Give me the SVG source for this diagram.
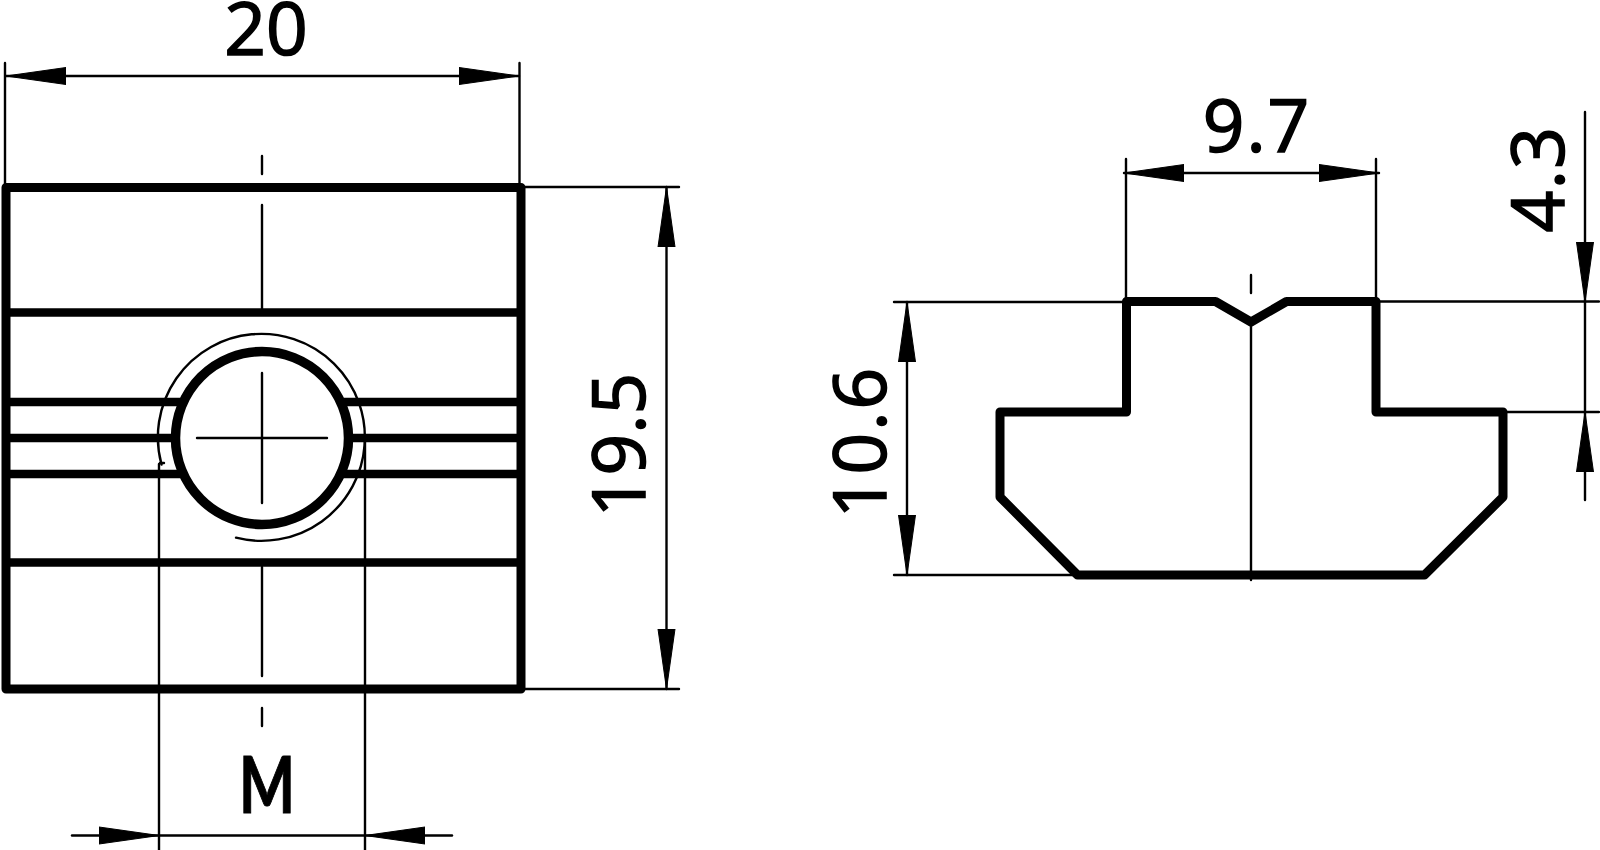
<svg xmlns="http://www.w3.org/2000/svg" width="1600" height="850" viewBox="0 0 1600 850">
<style>
.thick{fill:none;stroke:#000;stroke-width:9;stroke-linejoin:round;stroke-linecap:round}
.bar{fill:none;stroke:#000;stroke-width:8.500}
.thin{fill:none;stroke:#000;stroke-width:2.400;stroke-linecap:round}
.dim{fill:none;stroke:#000;stroke-width:2.400;stroke-linecap:round;marker-start:url(#arr);marker-end:url(#arr)}
.one{fill:none;stroke:#000;stroke-width:2.400;stroke-linecap:round;marker-end:url(#arr)}
text{font-family:"Open Sans","Noto Sans",sans-serif;font-size:73px;fill:#000;stroke:#000;stroke-width:1.600;text-anchor:middle}
</style>
<defs>
<marker id="arr" markerUnits="userSpaceOnUse" markerWidth="62" markerHeight="20" refX="60" refY="10" orient="auto-start-reverse" viewBox="0 0 62 20">
<path d="M0 1.5L60 10L0 18.5Z" fill="#000" stroke="#000" stroke-width="1" stroke-linejoin="round"/>
</marker>
</defs>
<rect width="1600" height="850" fill="#fff"/>
<g id="front-view">
<line class="bar" x1="7" y1="312.500" x2="520" y2="312.500"/>
<line class="bar" x1="7" y1="402" x2="520" y2="402"/>
<line class="bar" x1="7" y1="438" x2="520" y2="438"/>
<line class="bar" x1="7" y1="474" x2="520" y2="474"/>
<line class="bar" x1="7" y1="562.500" x2="520" y2="562.500"/>
<rect class="thick" x="6" y="187.500" width="515" height="501.500"/>
<path class="thin" d="M236 537.700A103.500 103.500 0 1 0 161.500 464.500"/>
<line class="thin" x1="159" y1="464" x2="159" y2="850"/>
<line class="thin" x1="365" y1="442" x2="365" y2="850"/>
<path class="thin" d="M160 463L164 463"/>
<circle cx="262" cy="438" r="86.500" fill="#fff" stroke="#000" stroke-width="9.500"/>
<line class="thin" x1="197" y1="438" x2="327" y2="438"/>
<line class="thin" x1="262" y1="373" x2="262" y2="503"/>
<line class="thin" x1="262" y1="156" x2="262" y2="174"/>
<line class="thin" x1="262" y1="205" x2="262" y2="309"/>
<line class="thin" x1="262" y1="567" x2="262" y2="676"/>
<line class="thin" x1="262" y1="708" x2="262" y2="726"/>
</g>
<g id="side-view">
<path class="thick" d="M1126.500 412V301.500H1215.500L1251 322L1286.500 301.500H1376V412H1503V497L1424.500 575H1077.500L1000 497V412Z"/>
<line class="thin" x1="1251" y1="275" x2="1251" y2="293"/>
<line class="thin" x1="1251" y1="322" x2="1251" y2="580"/>
</g>
<g id="connectors">
<line class="thin" x1="5" y1="63" x2="5" y2="184"/>
<line class="thin" x1="519.500" y1="63" x2="519.500" y2="184"/>
<line class="dim" x1="6" y1="76" x2="519" y2="76"/>
<line class="thin" x1="525" y1="187" x2="679" y2="187"/>
<line class="thin" x1="525" y1="689" x2="679" y2="689"/>
<line class="dim" x1="666.500" y1="187" x2="666.500" y2="689"/>
<line class="one" x1="72" y1="835.500" x2="159" y2="835.500"/>
<line class="one" x1="452" y1="835.500" x2="365" y2="835.500"/>
<line class="thin" x1="159" y1="835.500" x2="365" y2="835.500"/>
<line class="thin" x1="1126" y1="159" x2="1126" y2="298"/>
<line class="thin" x1="1376" y1="159" x2="1376" y2="298"/>
<line class="dim" x1="1124" y1="173" x2="1379" y2="173"/>
<line class="thin" x1="894" y1="302" x2="1126" y2="302"/>
<line class="thin" x1="894" y1="575" x2="1075" y2="575"/>
<line class="dim" x1="907" y1="302" x2="907" y2="575"/>
<line class="thin" x1="1380" y1="301.500" x2="1599" y2="301.500"/>
<line class="thin" x1="1507" y1="412" x2="1599" y2="412"/>
<line class="one" x1="1585" y1="112" x2="1585" y2="302"/>
<line class="one" x1="1585" y1="500" x2="1585" y2="412"/>
<line class="thin" x1="1585" y1="302" x2="1585" y2="412"/>
</g>
<g id="labels">
<text x="266" y="55">20</text>
<text transform="translate(645 445) rotate(-90)">19.5</text>
<text x="267" y="813" style="font-family:Lato,sans-serif;font-size:78px;font-weight:700;stroke-width:1" textLength="56" lengthAdjust="spacingAndGlyphs">M</text>
<text x="1257" y="152" letter-spacing="2">9.7</text>
<text transform="translate(1564 179) rotate(-90)" letter-spacing="1.500">4.3</text>
<text transform="translate(886 442) rotate(-90)" letter-spacing="2">10.6</text>
</g>
</svg>
